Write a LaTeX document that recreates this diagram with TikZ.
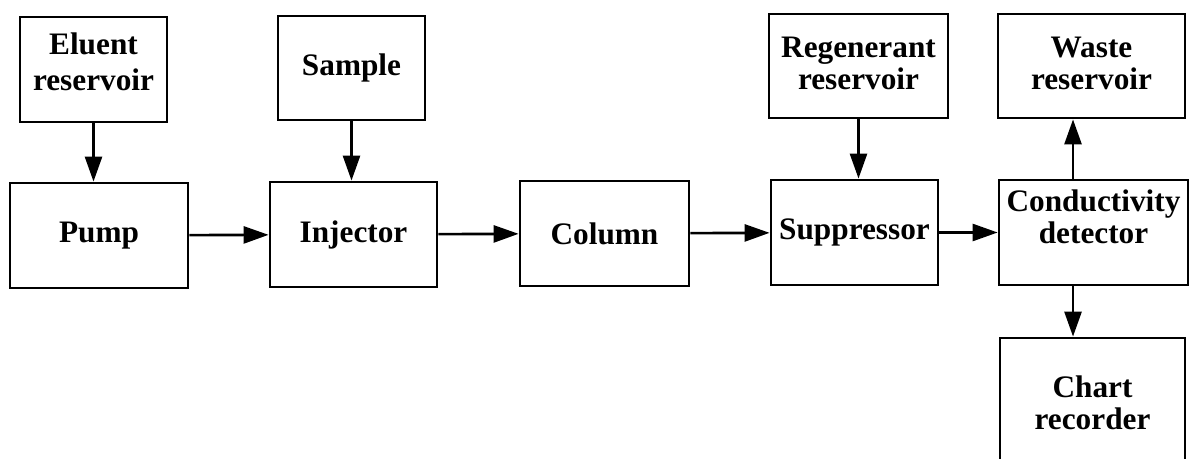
\documentclass[tikz,border=0pt]{standalone}
\usepackage{fontspec}
\setmainfont{Liberation Serif}
\usetikzlibrary{arrows.meta}

\tikzset{
  unit/.style={draw,line width=1.6pt,align=center,inner sep=0pt,
    font=\fontsize{17.8}{18.5}\selectfont\bfseries},
  flow/.style={->,line width=1.5pt}
}

\begin{document}
\begin{tikzpicture}[x=0.02cm,y=-0.02cm,>={Triangle[length=0.5cm,width=0.34cm]}]
  \useasboundingbox (0,0) rectangle (1189,459);
  \clip (0,0) rectangle (1189,459);
  % top row: supplies and waste
  \node[unit,minimum width=2.94cm,minimum height=2.1cm,text depth=0.3cm] (eluent) at (93.5,69.5) {Eluent\\[2pt]reservoir};
  \node[unit,minimum width=2.94cm,minimum height=2.08cm] (sample) at (351.5,68) {Sample};
  \node[unit,minimum width=3.58cm,minimum height=2.08cm,text depth=0.1cm] (regen) at (858.5,66) {Regenerant\\reservoir};
  \node[unit,minimum width=3.74cm,minimum height=2.08cm,text depth=0.1cm] (waste) at (1091.5,66) {Waste\\reservoir};
  % main flow line
  \node[unit,minimum width=3.56cm,minimum height=2.1cm] (pump) at (99,235.5) {Pump};
  \node[unit,minimum width=3.34cm,minimum height=2.1cm] (inj) at (353.5,234.5) {Injector};
  \node[unit,minimum width=3.38cm,minimum height=2.1cm] (col) at (604.5,233.5) {Column};
  \node[unit,minimum width=3.34cm,minimum height=2.1cm] (supp) at (854.5,232.5) {Suppressor};
  \node[unit,minimum width=3.78cm,minimum height=2.1cm,text depth=0.64cm] (cond) at (1093.5,232.5) {Conductivity\\detector};
  % recorder, runs off the bottom edge
  \node[unit,minimum width=3.7cm,minimum height=2.6cm] (chart) at (1092.5,403) {Chart\\recorder};

  \draw[flow] (eluent) -- (eluent |- pump.north);
  \draw[flow] (sample) -- (sample |- inj.north);
  \draw[flow] (regen) -- (regen |- supp.north);
  \foreach \a/\b in {pump/inj,inj/col,col/supp,supp/cond}
    \draw[flow] (\a) -- (\b);
  \draw[flow] ([xshift=-0.41cm]cond.north) -- ([xshift=-0.41cm]cond.north |- waste.south);
  \draw[flow] ([xshift=-0.41cm]cond.south) -- ([xshift=-0.41cm]cond.south |- chart.north);
\end{tikzpicture}
\end{document}
